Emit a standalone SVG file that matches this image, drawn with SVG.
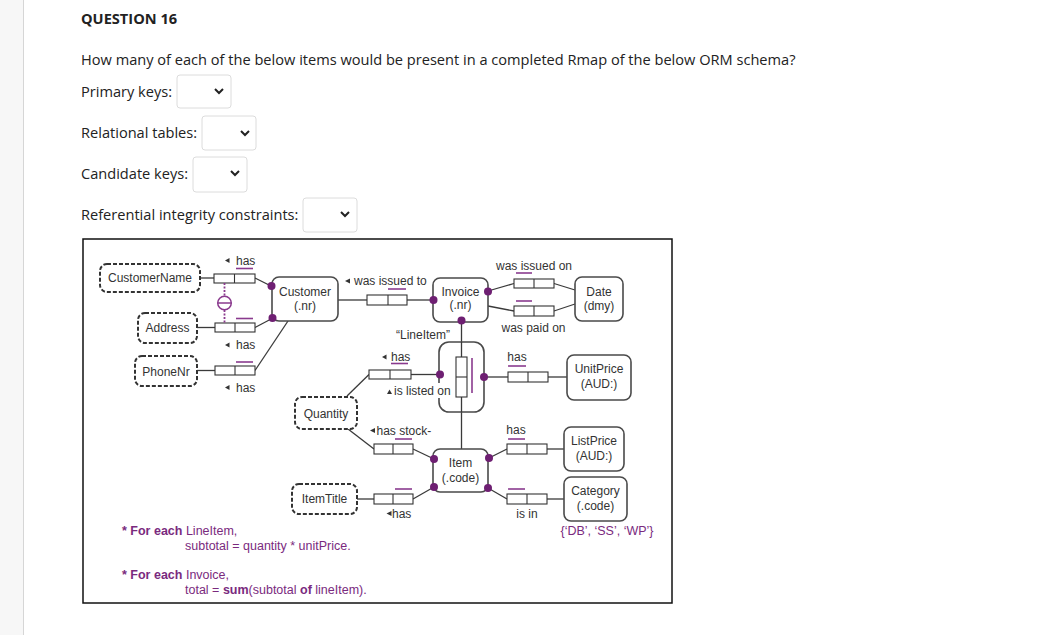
<svg xmlns="http://www.w3.org/2000/svg" width="1039" height="635" viewBox="0 0 1039 635">
<defs>
<style>
.q{font-family:"Open Sans",sans-serif;fill:#222;font-size:14.6px}
.t{font-family:"Liberation Sans",Arial,sans-serif;font-size:12px;fill:#333}
.c{text-anchor:middle}
.p{font-family:"Liberation Sans",Arial,sans-serif;font-size:12.5px;fill:#7a2a7e}
.sel{fill:#fff;stroke:#dcdcdc;stroke-width:1}
.chev{fill:none;stroke:#222;stroke-width:2}
.ln{stroke:#3a3a3a;stroke-width:1.3;fill:none}
.ent{fill:#fff;stroke:#4a4a4a;stroke-width:1.6}
.val{fill:#fff;stroke:#333;stroke-width:2;stroke-dasharray:4 2}
.role{fill:#fff;stroke:#333;stroke-width:1.1}
.uc{stroke:#8a3a8e;stroke-width:1.6}
.dot{fill:#6e1f72}
.tri{fill:#333}
</style>
</defs>
<rect x="0" y="0" width="1039" height="635" fill="#fff"/>
<rect x="0" y="0" width="23" height="635" fill="#f7f7f7"/>
<line x1="23.5" y1="0" x2="23.5" y2="635" stroke="#d6d6d6"/>

<g id="question">
<text x="81" y="24" class="q" font-weight="bold" font-size="16.6" fill="#333">QUESTION 16</text>
<text x="81" y="65" class="q">How many of each of the below items would be present in a completed Rmap of the below ORM schema?</text>
<text x="81" y="97" class="q">Primary keys:</text>
<rect x="177" y="75" width="54" height="33" rx="3" class="sel"/>
<polyline points="215,89 219,93 223,89" class="chev"/>
<text x="81" y="138" class="q">Relational tables:</text>
<rect x="202" y="116" width="54" height="34" rx="3" class="sel"/>
<polyline points="241,131 245,135 249,131" class="chev"/>
<text x="81" y="179" class="q">Candidate keys:</text>
<rect x="193" y="157" width="54" height="35" rx="3" class="sel"/>
<polyline points="231,171 235,175 239,171" class="chev"/>
<text x="81" y="220" class="q">Referential integrity constraints:</text>
<rect x="303" y="198" width="54" height="34" rx="3" class="sel"/>
<polyline points="341,212 345,216 349,212" class="chev"/>
</g>

<rect x="83" y="239" width="589" height="364" fill="#fff" stroke="#111" stroke-width="1.5"/>

<g id="connectors">
<line x1="200" y1="278" x2="214" y2="278" class="ln"/>
<line x1="255" y1="278" x2="271" y2="286" class="ln"/>
<line x1="197" y1="327.5" x2="215" y2="327.5" class="ln"/>
<line x1="255" y1="327.5" x2="273" y2="318" class="ln"/>
<line x1="197" y1="370.5" x2="215" y2="370.5" class="ln"/>
<line x1="255" y1="370.5" x2="288" y2="321" class="ln"/>
<line x1="338" y1="300" x2="367" y2="300" class="ln"/>
<line x1="407" y1="300" x2="433" y2="300" class="ln"/>
<line x1="488" y1="291" x2="514" y2="283.5" class="ln"/>
<line x1="554" y1="283.5" x2="575" y2="290" class="ln"/>
<line x1="488" y1="306" x2="514" y2="311" class="ln"/>
<line x1="554" y1="311" x2="575" y2="304" class="ln"/>
<line x1="461.5" y1="320" x2="461.5" y2="357" class="ln"/>
<line x1="461.5" y1="397" x2="461.5" y2="449" class="ln"/>
<line x1="440" y1="374.5" x2="411" y2="374.5" class="ln"/>
<line x1="369" y1="374.5" x2="347" y2="396" class="ln"/>
<line x1="484" y1="377" x2="508" y2="377" class="ln"/>
<line x1="548" y1="377" x2="567" y2="377" class="ln"/>
<line x1="348" y1="429" x2="374" y2="449" class="ln"/>
<line x1="413" y1="449" x2="434" y2="459" class="ln"/>
<line x1="357" y1="499" x2="374" y2="499" class="ln"/>
<line x1="413" y1="499" x2="434" y2="487" class="ln"/>
<line x1="489" y1="458" x2="507" y2="449" class="ln"/>
<line x1="547" y1="449" x2="564" y2="449" class="ln"/>
<line x1="488" y1="488" x2="507" y2="499" class="ln"/>
<line x1="547" y1="499" x2="564" y2="499" class="ln"/>
</g>

<g id="CustomerName">
<rect x="100" y="264" width="100" height="28" rx="7" class="val"/>
<text x="150" y="282" class="t c">CustomerName</text>
</g>
<g id="Address">
<rect x="138" y="313" width="59" height="30" rx="7" class="val"/>
<text x="167.5" y="331.5" class="t c">Address</text>
</g>
<g id="PhoneNr">
<rect x="135" y="356" width="62" height="30" rx="7" class="val"/>
<text x="166" y="375.5" class="t c">PhoneNr</text>
</g>
<g id="Quantity">
<rect x="295" y="397" width="62" height="32" rx="7" class="val"/>
<text x="326" y="417.5" class="t c">Quantity</text>
</g>
<g id="ItemTitle">
<rect x="292" y="484" width="65" height="30" rx="7" class="val"/>
<text x="324.5" y="502.5" class="t c">ItemTitle</text>
</g>

<g id="Customer">
<rect x="272" y="277" width="66" height="44" rx="7" class="ent"/>
<text x="305" y="295.5" class="t c">Customer</text>
<text x="305" y="310" class="t c">(.nr)</text>
<circle cx="271.5" cy="286" r="4" class="dot"/>
<circle cx="272.5" cy="318" r="4" class="dot"/>
</g>
<g id="Invoice">
<rect x="433" y="278" width="55" height="44" rx="7" class="ent"/>
<text x="460.5" y="296" class="t c">Invoice</text>
<text x="460.5" y="309" class="t c">(.nr)</text>
<circle cx="433.5" cy="300" r="4" class="dot"/>
<circle cx="488" cy="291.5" r="4" class="dot"/>
<circle cx="461.5" cy="320.5" r="4" class="dot"/>
</g>
<g id="Date">
<rect x="575" y="277" width="48" height="44" rx="7" class="ent"/>
<text x="599" y="295.5" class="t c">Date</text>
<text x="599" y="309.5" class="t c">(dmy)</text>
</g>
<g id="UnitPrice">
<rect x="567" y="355" width="64" height="45" rx="7" class="ent"/>
<text x="599" y="373" class="t c">UnitPrice</text>
<text x="599" y="388" class="t c">(AUD:)</text>
</g>
<g id="Item">
<rect x="433" y="449" width="55" height="43" rx="7" class="ent"/>
<text x="460.5" y="467" class="t c">Item</text>
<text x="460.5" y="482" class="t c">(.code)</text>
<circle cx="434" cy="459" r="4" class="dot"/>
<circle cx="434" cy="487" r="4" class="dot"/>
<circle cx="489" cy="458" r="4" class="dot"/>
<circle cx="488" cy="488" r="4" class="dot"/>
</g>
<g id="ListPrice">
<rect x="564" y="427" width="60" height="44" rx="7" class="ent"/>
<text x="594" y="445" class="t c">ListPrice</text>
<text x="594" y="460" class="t c">(AUD:)</text>
</g>
<g id="Category">
<rect x="564" y="477" width="63" height="44" rx="7" class="ent"/>
<text x="595.5" y="495" class="t c">Category</text>
<text x="595.5" y="510" class="t c">(.code)</text>
<text x="607" y="535" class="p c" font-size="12">{‘DB’, ‘SS’, ‘WP’}</text>
</g>

<g id="LineItem">
<rect x="439" y="342" width="45" height="70" rx="10" class="ent"/>
<text x="423" y="338.5" class="t c">“LineItem”</text>
<line x1="461.5" y1="342" x2="461.5" y2="357" class="ln"/>
<line x1="461.5" y1="397" x2="461.5" y2="412" class="ln"/>
<rect x="456" y="357" width="11" height="40" class="role"/>
<line x1="456" y1="377" x2="467" y2="377" class="role"/>
<line x1="472" y1="358" x2="472" y2="393" class="uc"/>
<circle cx="440" cy="374.5" r="4" class="dot"/>
<circle cx="484" cy="377" r="4" class="dot"/>
<rect x="386" y="383" width="68" height="15" fill="#fff"/>
<polygon points="387,394 389.5,389.5 392,394" class="tri"/>
<text x="394" y="394.5" class="t">is listed on</text>
</g>

<g id="fact-customername-has">
<rect x="214" y="274" width="41" height="9" class="role"/>
<line x1="234.5" y1="274" x2="234.5" y2="283" class="role"/>
<line x1="236" y1="268.5" x2="253" y2="268.5" class="uc"/>
<polygon points="225,260.5 229.5,258 229.5,263" class="tri"/>
<text x="236" y="264.5" class="t">has</text>
</g>
<g id="fact-address-has">
<rect x="215" y="323" width="40" height="9" class="role"/>
<line x1="235" y1="323" x2="235" y2="332" class="role"/>
<line x1="236" y1="318.5" x2="253" y2="318.5" class="uc"/>
<polygon points="225,345 229.5,342.5 229.5,347.5" class="tri"/>
<text x="236" y="349" class="t">has</text>
</g>
<g id="external-uniqueness">
<line x1="224.5" y1="283" x2="224.5" y2="296" stroke="#8a3a8e" stroke-width="1.8" stroke-dasharray="2 1.5"/>
<line x1="224.5" y1="310" x2="224.5" y2="323" stroke="#8a3a8e" stroke-width="1.8" stroke-dasharray="2 1.5"/>
<circle cx="224.5" cy="303" r="6.8" fill="#fff" stroke="#8a3a8e" stroke-width="1.5"/>
<line x1="218" y1="303" x2="231" y2="303" stroke="#8a3a8e" stroke-width="1.5"/>
</g>
<g id="fact-phonenr-has">
<rect x="215" y="366" width="40" height="9" class="role"/>
<line x1="235" y1="366" x2="235" y2="375" class="role"/>
<line x1="236" y1="362" x2="253" y2="362" class="uc"/>
<polygon points="225,387.5 229.5,385 229.5,390" class="tri"/>
<text x="236" y="391.5" class="t">has</text>
</g>
<g id="fact-was-issued-to">
<rect x="367" y="295" width="40" height="10" class="role"/>
<line x1="388" y1="295" x2="388" y2="305" class="role"/>
<line x1="388" y1="289" x2="406" y2="289" class="uc"/>
<polygon points="345,281 350,278.5 350,283.5" class="tri"/>
<text x="354" y="285" class="t">was issued to</text>
</g>
<g id="fact-was-issued-on">
<rect x="514" y="279" width="40" height="9" class="role"/>
<line x1="534" y1="279" x2="534" y2="288" class="role"/>
<line x1="516" y1="273" x2="532" y2="273" class="uc"/>
<text x="534" y="269.5" class="t c">was issued on</text>
</g>
<g id="fact-was-paid-on">
<rect x="514" y="306" width="40" height="10" class="role"/>
<line x1="534" y1="306" x2="534" y2="316" class="role"/>
<line x1="516" y1="301" x2="532" y2="301" class="uc"/>
<text x="533.5" y="331.5" class="t c">was paid on</text>
</g>
<g id="fact-lineitem-quantity">
<rect x="369" y="370" width="42" height="9" class="role"/>
<line x1="390" y1="370" x2="390" y2="379" class="role"/>
<line x1="391" y1="363.5" x2="408" y2="363.5" class="uc"/>
<polygon points="382,357 386.5,354.5 386.5,359.5" class="tri"/>
<text x="391" y="361" class="t">has</text>
</g>
<g id="fact-lineitem-unitprice">
<rect x="508" y="372" width="40" height="10" class="role"/>
<line x1="528" y1="372" x2="528" y2="382" class="role"/>
<line x1="508" y1="366" x2="526" y2="366" class="uc"/>
<text x="517" y="360.5" class="t c">has</text>
</g>
<g id="fact-has-stock">
<rect x="374" y="444" width="39" height="10" class="role"/>
<line x1="393" y1="444" x2="393" y2="454" class="role"/>
<line x1="395" y1="439" x2="412" y2="439" class="uc"/>
<polygon points="370,430.5 375,428 375,433" class="tri"/>
<text x="376.5" y="434.5" class="t">has stock-</text>
</g>
<g id="fact-itemtitle">
<rect x="374" y="494" width="39" height="10" class="role"/>
<line x1="393" y1="494" x2="393" y2="504" class="role"/>
<line x1="395" y1="489" x2="412" y2="489" class="uc"/>
<polygon points="386.5,513.5 391.5,511 391.5,516" class="tri"/>
<text x="392" y="517.5" class="t">has</text>
</g>
<g id="fact-listprice">
<rect x="507" y="444" width="40" height="10" class="role"/>
<line x1="527" y1="444" x2="527" y2="454" class="role"/>
<line x1="508" y1="439" x2="525" y2="439" class="uc"/>
<text x="516" y="433.5" class="t c">has</text>
</g>
<g id="fact-category">
<rect x="507" y="494" width="40" height="10" class="role"/>
<line x1="527" y1="494" x2="527" y2="504" class="role"/>
<line x1="508" y1="489" x2="525" y2="489" class="uc"/>
<text x="527" y="517.5" class="t c">is in</text>
</g>

<g id="derivation-rules">
<text x="122" y="535" class="p"><tspan font-weight="bold">* For each</tspan> LineItem,</text>
<text x="185" y="550" class="p">subtotal = quantity * unitPrice.</text>
<text x="122" y="579" class="p"><tspan font-weight="bold">* For each</tspan> Invoice,</text>
<text x="185" y="594" class="p">total = <tspan font-weight="bold">sum</tspan>(subtotal <tspan font-weight="bold">of</tspan> lineItem).</text>
</g>
</svg>
